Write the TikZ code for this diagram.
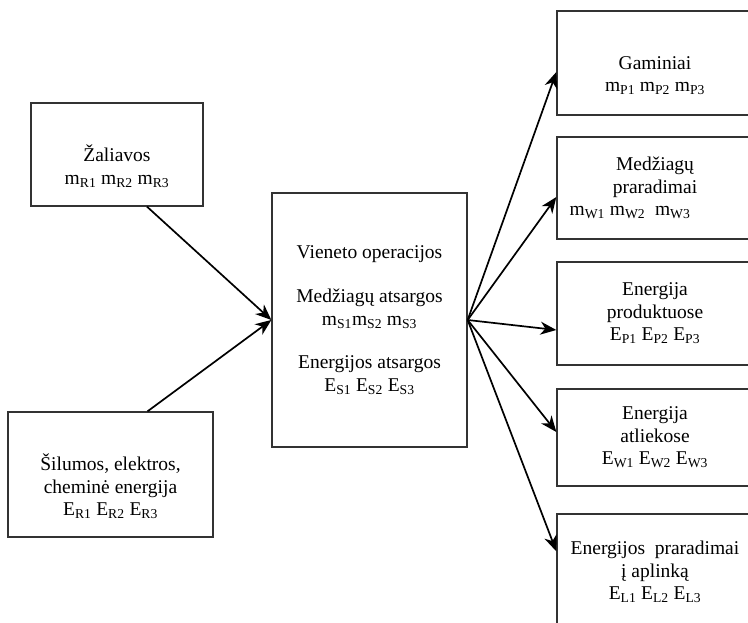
\documentclass[tikz,border=0pt]{standalone}
\usepackage{fontspec}
\setmainfont{Liberation Serif}
\usetikzlibrary{arrows.meta}

\begin{document}
\begin{tikzpicture}[x=1pt,y=-1pt,
    box/.style={draw=black!80,line width=1.3pt,align=center,inner sep=0pt,
      font=\fontsize{19.5}{22.5}\selectfont},
    flow/.style={-{Stealth[length=16pt,width=13pt,inset=5pt]},line width=1.7pt}]
    \clip (0,0) rectangle (748,622);
    \node[box,minimum width=172,minimum height=103] (zal) at (117,154.5)
      {\strut\\Žaliavos\\m\textsubscript{R1} m\textsubscript{R2} m\textsubscript{R3}};
    \node[box,minimum width=205,minimum height=125] (sil) at (110.5,474.5)
      {\strut\\Šilumos, elektros,\\cheminė energija\\E\textsubscript{R1} E\textsubscript{R2} E\textsubscript{R3}};
    \node[box,minimum width=195,minimum height=254] (unit) at (369.5,320)
      {Vieneto operacijos\\[22pt]Medžiagų atsargos\\m\textsubscript{S1}m\textsubscript{S2} m\textsubscript{S3}\\[21pt]Energijos atsargos\\E\textsubscript{S1} E\textsubscript{S2} E\textsubscript{S3}};
    \node[box,minimum width=196,minimum height=104] (gam) at (655,63)
      {\strut\\Gaminiai\\m\textsubscript{P1} m\textsubscript{P2} m\textsubscript{P3}};
    \node[box,minimum width=196,minimum height=102] (mpr) at (655,188)
      {Medžiagų\\praradimai\\m\textsubscript{W1} m\textsubscript{W2}~ m\textsubscript{W3}\hspace*{50pt}};
    \node[box,minimum width=196,minimum height=103] (epr) at (655,313.5)
      {Energija\\produktuose\\E\textsubscript{P1} E\textsubscript{P2} E\textsubscript{P3}};
    \node[box,minimum width=196,minimum height=97] (eat) at (655,437.5)
      {Energija\\atliekose\\E\textsubscript{W1} E\textsubscript{W2} E\textsubscript{W3}};
    \node[box,minimum width=196,minimum height=116] (epl) at (655,572)
      {Energijos~ praradimai\\į aplinką\\E\textsubscript{L1} E\textsubscript{L2} E\textsubscript{L3}};
    \draw[flow] ([xshift=30pt]zal.south) -- (unit.west);
    \draw[flow] ([xshift=37pt]sil.north) -- (unit.west);
    \draw[flow] (unit.east) -- ([yshift=-9pt]gam.west);
    \draw[flow] (unit.east) -- ([yshift=-9pt]mpr.west);
    \draw[flow] (unit.east) -- ([yshift=-16.5pt]epr.west);
    \draw[flow] (unit.east) -- ([yshift=5.5pt]eat.west);
    \draw[flow] (unit.east) -- ([yshift=-38pt]epl.north west);
\end{tikzpicture}
\end{document}
